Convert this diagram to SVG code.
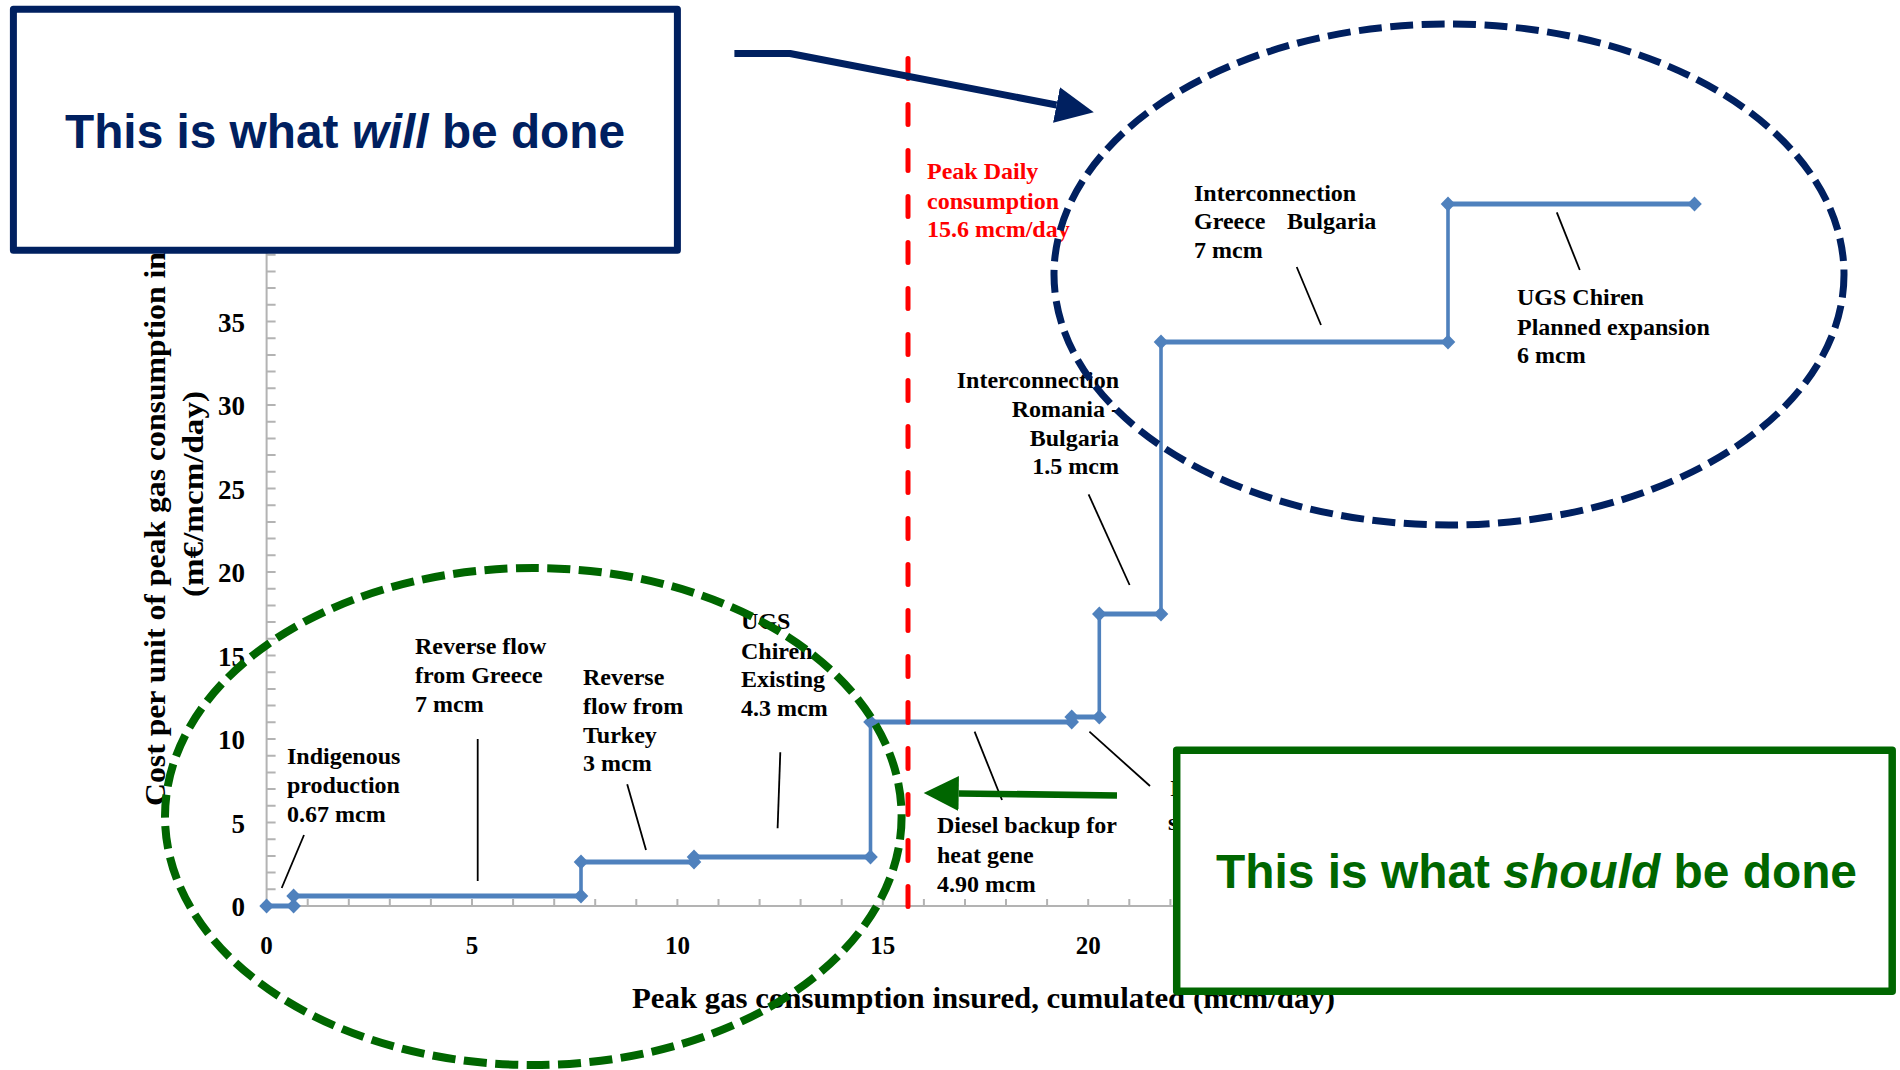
<svg xmlns="http://www.w3.org/2000/svg" width="1900" height="1070" viewBox="0 0 1900 1070">
<style>
.lbl{font-family:"Liberation Serif","Times New Roman",serif;font-weight:bold;font-size:24px;fill:#000}
.red{fill:#FF0000}
.ytl{font-family:"Liberation Serif","Times New Roman",serif;font-weight:bold;font-size:27px;fill:#000;text-anchor:end}
.xtl{font-family:"Liberation Serif","Times New Roman",serif;font-weight:bold;font-size:25px;fill:#000;text-anchor:middle}
.atitle{font-family:"Liberation Serif","Times New Roman",serif;font-weight:bold;font-size:30px;fill:#000}
.axis{stroke:#B3B3B3;stroke-width:2;fill:none}
.leader{stroke:#000;stroke-width:1.8;fill:none}
.hseg{stroke:#4F81BD;stroke-width:4.8;fill:none}
.vseg{stroke:#4F81BD;stroke-width:3.6;fill:none}
.big{font-family:"Liberation Sans",Arial,sans-serif;font-weight:bold;font-size:48px}
</style>
<defs>
<marker id="dia" viewBox="-8 -8 16 16" refX="0" refY="0" markerWidth="16" markerHeight="16" markerUnits="userSpaceOnUse" orient="0">
<path d="M0,-7.4 L7.3,0 L0,7.4 L-7.3,0 Z" fill="#4F81BD"/>
</marker>
<marker id="headNavy" viewBox="0 -19 40 38" refX="0" refY="0" markerWidth="40" markerHeight="38" markerUnits="userSpaceOnUse" orient="auto">
<path d="M0,-18 L38,0 L0,18 Z" fill="#002060"/>
</marker>
<marker id="headGreen" viewBox="0 -19 40 38" refX="0" refY="0" markerWidth="40" markerHeight="38" markerUnits="userSpaceOnUse" orient="auto">
<path d="M0,-17.5 L35,0 L0,17.5 Z" fill="#006600"/>
</marker>
</defs>
<rect x="0" y="0" width="1900" height="1070" fill="#FFFFFF"/>

<g id="chart">
<g id="axes">
<path class="axis" d="M266.6,906 H1215 M266.6,906 V252"/>
<path class="axis" stroke-width="1.5" d="M307.7,906 V899 M348.8,906 V899 M389.8,906 V899 M430.9,906 V899 M472,906 V899 M513.1,906 V899 M554.2,906 V899 M595.2,906 V899 M636.3,906 V899 M677.4,906 V899 M718.5,906 V899 M759.6,906 V899 M800.6,906 V899 M841.7,906 V899 M882.8,906 V899 M923.9,906 V899 M965,906 V899 M1006,906 V899 M1047.1,906 V899 M1088.2,906 V899 M1129.3,906 V899 M1170.4,906 V899 M1211.4,906 V899"/>
<path class="axis" stroke-width="1.5" d="M266.6,889.3 H275.6 M266.6,872.6 H275.6 M266.6,855.9 H275.6 M266.6,839.2 H275.6 M266.6,822.5 H275.6 M266.6,805.8 H275.6 M266.6,789.1 H275.6 M266.6,772.4 H275.6 M266.6,755.7 H275.6 M266.6,739 H275.6 M266.6,722.3 H275.6 M266.6,705.6 H275.6 M266.6,688.9 H275.6 M266.6,672.2 H275.6 M266.6,655.5 H275.6 M266.6,638.8 H275.6 M266.6,622.1 H275.6 M266.6,605.4 H275.6 M266.6,588.7 H275.6 M266.6,572 H275.6 M266.6,555.3 H275.6 M266.6,538.6 H275.6 M266.6,521.9 H275.6 M266.6,505.2 H275.6 M266.6,488.5 H275.6 M266.6,471.8 H275.6 M266.6,455.1 H275.6 M266.6,438.4 H275.6 M266.6,421.7 H275.6 M266.6,405 H275.6 M266.6,388.3 H275.6 M266.6,371.6 H275.6 M266.6,354.9 H275.6 M266.6,338.2 H275.6 M266.6,321.5 H275.6 M266.6,304.8 H275.6 M266.6,288.1 H275.6 M266.6,271.4 H275.6 M266.6,254.7 H275.6"/>
<text class="ytl" x="245" y="916">0</text>
<text class="ytl" x="245" y="832.5">5</text>
<text class="ytl" x="245" y="749">10</text>
<text class="ytl" x="245" y="665.5">15</text>
<text class="ytl" x="245" y="582">20</text>
<text class="ytl" x="245" y="498.5">25</text>
<text class="ytl" x="245" y="415">30</text>
<text class="ytl" x="245" y="331.5">35</text>
<text class="xtl" x="266.6" y="954">0</text>
<text class="xtl" x="472" y="954">5</text>
<text class="xtl" x="677.4" y="954">10</text>
<text class="xtl" x="882.8" y="954">15</text>
<text class="xtl" x="1088.2" y="954">20</text>
<text class="atitle" x="632" y="1008" textLength="703" lengthAdjust="spacingAndGlyphs">Peak gas consumption insured, cumulated (mcm/day)</text>
<text class="atitle" transform="translate(165,806) rotate(-90)" x="0" y="0" textLength="554" lengthAdjust="spacingAndGlyphs">Cost per unit of peak gas consumption in</text>
<text class="atitle" transform="translate(203,494) rotate(-90)" x="0" y="0" text-anchor="middle" textLength="206" lengthAdjust="spacingAndGlyphs">(m€/mcm/day)</text>
</g>
<g id="series">
<path class="hseg" d="M266.6,906 H293.6 M293.6,896 H581 M581,862 H694 M694,857 H870.5 M870.5,722 H1071.7 M1071.7,717 H1099.3 M1099.3,614 H1161 M1161,342 H1448 M1448,204 H1694.5"/>
<path class="vseg" d="M293.6,906 V896 M581,896 V862 M694,862 V857 M870.5,857 V722 M1071.7,722 V717 M1099.3,717 V614 M1161,614 V342 M1448,342 V204"/>
<path fill="none" stroke="none" marker-start="url(#dia)" marker-mid="url(#dia)" marker-end="url(#dia)" d="M266.6,906 L293.6,906 L293.6,896 L581,896 L581,862 L694,862 L694,857 L870.5,857 L870.5,722 L1071.7,722 L1071.7,717 L1099.3,717 L1099.3,614 L1161,614 L1161,342 L1448,342 L1448,204 L1694.5,204"/>
</g>
<g id="peak-line">
<path d="M908,58.5 V909" fill="none" stroke="#FF0000" stroke-width="5" stroke-linecap="round" stroke-dasharray="20 26"/>
<text class="lbl red" x="927"><tspan x="927" y="179">Peak Daily</tspan><tspan x="927" y="209">consumption</tspan><tspan x="927" y="237">15.6 mcm/day</tspan></text>
</g>
<g id="label-indigenous"><text class="lbl"><tspan x="287" y="764">Indigenous</tspan><tspan x="287" y="793">production</tspan><tspan x="287" y="822">0.67 mcm</tspan></text></g>
<g id="label-greece-reverse"><text class="lbl"><tspan x="415" y="654">Reverse flow</tspan><tspan x="415" y="683">from Greece</tspan><tspan x="415" y="712">7 mcm</tspan></text></g>
<g id="label-turkey"><text class="lbl"><tspan x="583" y="685">Reverse</tspan><tspan x="583" y="714">flow from</tspan><tspan x="583" y="743">Turkey</tspan><tspan x="583" y="771">3 mcm</tspan></text></g>
<g id="label-ugs-existing"><text class="lbl"><tspan x="741" y="629">UGS</tspan><tspan x="741" y="659">Chiren</tspan><tspan x="741" y="687">Existing</tspan><tspan x="741" y="716">4.3 mcm</tspan></text></g>
<g id="label-diesel"><text class="lbl"><tspan x="937" y="833">Diesel backup for</tspan><tspan x="937" y="863">heat gene</tspan><tspan x="937" y="892">4.90 mcm</tspan></text></g>
<g id="label-hidden"><text class="lbl"><tspan x="1170" y="796">I</tspan><tspan x="1168" y="830">s</tspan></text></g>
<g id="label-romania"><text class="lbl" text-anchor="end"><tspan x="1119" y="388">Interconnection</tspan><tspan x="1119" y="417">Romania -</tspan><tspan x="1119" y="446">Bulgaria</tspan><tspan x="1119" y="474">1.5 mcm</tspan></text></g>
<g id="label-greece-bulgaria"><text class="lbl"><tspan x="1194" y="201">Interconnection</tspan><tspan x="1194" y="229">Greece</tspan><tspan x="1287" y="229">Bulgaria</tspan><tspan x="1194" y="258">7 mcm</tspan></text></g>
<g id="label-ugs-planned"><text class="lbl"><tspan x="1517" y="305">UGS Chiren</tspan><tspan x="1517" y="334.5">Planned expansion</tspan><tspan x="1517" y="363">6 mcm</tspan></text></g>
</g>

<g id="connectors">
<g id="leaders">
<path class="leader" d="M281.7,888 L304,835"/>
<path class="leader" d="M477.7,739 L477.7,881"/>
<path class="leader" d="M627.2,784.3 L646,850"/>
<path class="leader" d="M780.3,752.3 L777.6,828.3"/>
<path class="leader" d="M974.6,731.7 L1002,800"/>
<path class="leader" d="M1089.4,731.7 L1150,786"/>
<path class="leader" d="M1088.6,494.4 L1129.6,585"/>
<path class="leader" d="M1296.7,267 L1321,325"/>
<path class="leader" d="M1556.8,212.4 L1579.8,270"/>
</g>
<path id="arrow-will" d="M734.4,53.5 L790,53.5 L1056.5,105" fill="none" stroke="#002060" stroke-width="7" stroke-linejoin="round" marker-end="url(#headNavy)"/>
<path id="arrow-should" d="M1117,795.5 L958.7,793.5" fill="none" stroke="#006600" stroke-width="6.7" marker-end="url(#headGreen)"/>
</g>

<g id="ellipse-will">
<ellipse cx="1449" cy="274.5" rx="395" ry="250.5" fill="none" stroke="#002060" stroke-width="7" stroke-dasharray="23 8.5"/>
</g>
<g id="ellipse-should">
<ellipse cx="533.3" cy="816.5" rx="368.3" ry="248.5" fill="none" stroke="#006600" stroke-width="8" stroke-dasharray="23 8.5"/>
</g>

<g id="box-will">
<rect x="13.4" y="9.2" width="664" height="241" fill="#FFFFFF" stroke="#002060" stroke-width="7" stroke-linejoin="round"/>
<text class="big" x="65" y="148" fill="#002060" textLength="560" lengthAdjust="spacingAndGlyphs">This is what <tspan font-style="italic">will</tspan> be done</text>
</g>
<g id="box-should">
<rect x="1176.7" y="750.3" width="715.5" height="241" fill="#FFFFFF" stroke="#006600" stroke-width="7.5" stroke-linejoin="round"/>
<text class="big" x="1216" y="888" fill="#006600" textLength="641" lengthAdjust="spacingAndGlyphs">This is what <tspan font-style="italic">should</tspan> be done</text>
</g>
</svg>
